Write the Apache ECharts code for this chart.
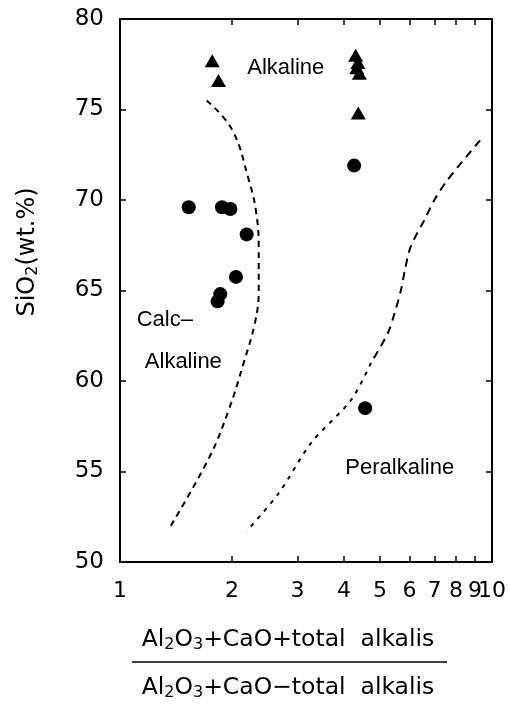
<!DOCTYPE html>
<html><head><meta charset="utf-8">
<script src="https://cdn.jsdelivr.net/npm/echarts@6/dist/echarts.min.js"></script>
<style>html,body{margin:0;padding:0;background:#fff}#c{width:509px;height:707px}</style>
</head><body><div id="c"></div>
<script>
// Data
var triangles = [[1.77,77.7],[1.84,76.6],[4.30,78.0],[4.36,77.6],[4.33,77.3],[4.40,77.0],[4.37,74.8]];
var circles = [[4.26,71.9],[1.53,69.6],[1.88,69.6],[1.98,69.5],[2.19,68.1],[2.05,65.75],[1.86,64.8],[1.83,64.4],[4.56,58.5]];
var leftCurve = [[1.71,75.5],[2.0,73.9],[2.22,71.1],[2.32,69.4],[2.36,67.4],[2.36,65.0],[2.31,63.3],[2.15,61.0],[1.96,58.4],[1.74,55.8],[1.36,51.9]];
var rightCurveUpper = [[9.29,73.3],[7.59,71.1],[7.0,70.0],[6.58,68.9],[6.04,67.4],[5.83,66.1],[5.69,65.0],[5.48,63.8],[5.25,62.65],[4.73,61.0]];
var rightCurveLower = [[4.73,61.0],[4.18,58.95],[3.27,56.6],[2.67,53.8],[2.19,51.7]];
var xTickLabels = [1,2,3,4,5,6,7,8,9];
var xEndLabel = [10];
var xMinorTicks = [2,3,4,5,6,7,8,9];
var regionLabels = [
  {name:'Alkaline', pos:[2.79,77.3]},
  {name:'Calc–', pos:[1.32,63.4]},
  {name:'Alkaline', pos:[1.48,61.05]},
  {name:'Peralkaline', pos:[5.65,55.2]}
];

var FONT = 'Liberation Sans, Arial, sans-serif';
var DJ = 'DejaVu Sans, sans-serif';
var chart = echarts.init(document.getElementById('c'), null, {renderer:'canvas'});
var xAxisBase = {
  type:'log', logBase:10, min:1, max:10,
  axisLine:{show:true, onZero:false, lineStyle:{color:'#000', width:2}},
  axisTick:{show:true, inside:true, length:6, customValues:xMinorTicks, lineStyle:{color:'#000', width:1.5}},
  splitLine:{show:false}, minorTick:{show:false}, minorSplitLine:{show:false}
};
var xLabelStyle = {show:true, color:'#000', fontSize:22, fontFamily:DJ, margin:18, hideOverlap:false,
  formatter:function(v){return String(Math.round(v));}};
var yAxisBase = {
  type:'value', min:50, max:80, interval:5,
  axisLine:{show:true, onZero:false, lineStyle:{color:'#000', width:2}},
  axisTick:{show:true, inside:true, length:6, lineStyle:{color:'#000', width:1.5}},
  splitLine:{show:false}
};
var option = {
  animation:false,
  backgroundColor:'#fff',
  grid:{left:120, right:17, top:19, bottom:145, containLabel:false},
  xAxis:[
    Object.assign({}, xAxisBase, {position:'bottom',
      axisLabel:Object.assign({}, xLabelStyle, {customValues:xTickLabels, showMinLabel:true, showMaxLabel:true})}),
    Object.assign({}, xAxisBase, {position:'top', axisLabel:{show:false}}),
    Object.assign({}, xAxisBase, {position:'bottom', axisLine:{show:false, onZero:false}, axisTick:{show:false},
      axisLabel:Object.assign({}, xLabelStyle, {customValues:xEndLabel, showMinLabel:true, showMaxLabel:true})})
  ],
  yAxis:[
    Object.assign({}, yAxisBase, {position:'left',
      axisLabel:{show:true, color:'#000', fontSize:23, fontFamily:DJ, margin:16}}),
    Object.assign({}, yAxisBase, {position:'right', axisLabel:{show:false}})
  ],
  series:[
    {type:'line', data:leftCurve, smooth:0.4, symbol:'none',
      lineStyle:{color:'#000', width:2, type:[6,5], opacity:1}},
    {type:'line', data:rightCurveUpper, smooth:0.3, symbol:'none',
      lineStyle:{color:'#000', width:2, type:[8,6], opacity:1}},
    {type:'line', data:rightCurveLower, smooth:0.3, symbol:'none',
      lineStyle:{color:'#000', width:2, type:[4,6], opacity:1}},
    {type:'scatter', data:circles, symbol:'circle', symbolSize:14, itemStyle:{color:'#000', opacity:1}},
    {type:'scatter', data:triangles, symbol:'triangle', symbolSize:[15,13], itemStyle:{color:'#000', opacity:1}},
    {type:'scatter', symbolSize:0, silent:true, itemStyle:{opacity:1},
      data:regionLabels.map(function(d){return {value:d.pos, name:d.name};}),
      label:{show:true, position:'inside', formatter:'{b}', color:'#000', opacity:1, fontSize:22, fontFamily:FONT}}
  ],
  graphic:[
    {type:'text', x:28, y:252, rotation:Math.PI/2,
      style:{text:'SiO{s|2}(wt.%)', fill:'#000', font:'24px ' + DJ, align:'center', verticalAlign:'middle',
        rich:{s:{fontSize:16, fontFamily:DJ, fill:'#000', padding:[10,0,0,0]}}}},
    {type:'text', x:288, y:640,
      style:{text:'Al{s|2}O{s|3}+CaO+total  alkalis', fill:'#000', font:'23.5px ' + DJ, align:'center', verticalAlign:'middle',
        rich:{s:{fontSize:16, fontFamily:DJ, fill:'#000', padding:[10,0,0,0]}}}},
    {type:'line', shape:{x1:132, y1:662, x2:447, y2:662}, style:{stroke:'#000', lineWidth:1.5}},
    {type:'text', x:288, y:688,
      style:{text:'Al{s|2}O{s|3}+CaO−total  alkalis', fill:'#000', font:'23.5px ' + DJ, align:'center', verticalAlign:'middle',
        rich:{s:{fontSize:16, fontFamily:DJ, fill:'#000', padding:[10,0,0,0]}}}}
  ]
};
chart.setOption(option);
</script></body></html>
